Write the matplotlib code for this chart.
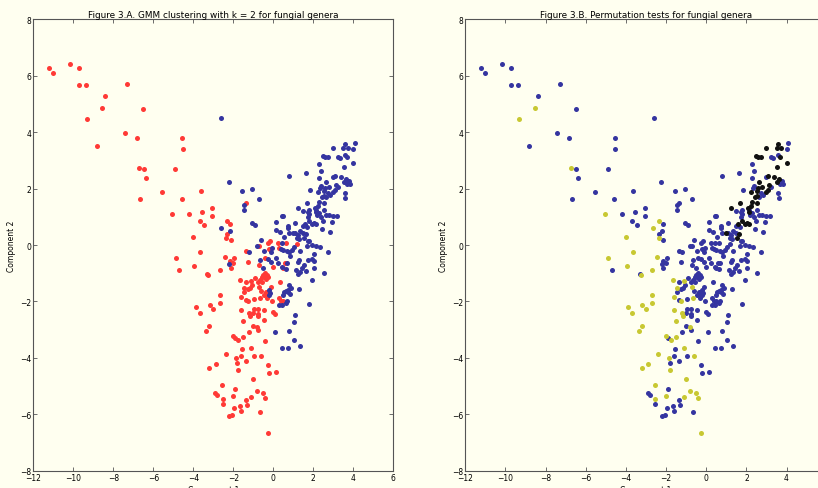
import numpy as np
import matplotlib
matplotlib.use("Agg")
import matplotlib.pyplot as plt

# points of the 2-d projection, grouped by (GMM cluster, permutation result)
# cluster 1 (red) -> not significant in permutation test (blue)
red_ns_x = [-11.23, -11.0, -10.18, -9.72, -9.70, -9.38, -7.30, -8.40, -6.50, -7.42,
            -6.82, -4.55, -8.82, -4.52, -6.48, -4.90, -6.38, -5.55, -3.63, -6.68,
            -4.57, -3.07, -3.55, -4.20, -3.07, -3.68, -2.15, -3.47, -2.33, -2.13,
            -1.38, -4.70, -3.32, -1.95, -2.0, -2.13, -2.17, -1.38, -1.28,
            -0.27, -0.15, 0.25, 0.63, 1.2, -0.72, -0.23, -0.42, 0.28,
            -0.03, 0.33, 0.47, 0.6, -0.73,
            -0.92, -0.78, -0.68, -0.58, -0.5, -0.42, -0.47, -0.55, -0.38, -1.38, -0.3, -0.27,
            -1.28, -1.17, -1.48, -0.63, -0.38, -0.28, -1.37, -0.95, -0.3, -0.08, 0.38, 0.47, 0.3,
            -0.95, -0.78, -0.48, -1.0, -0.78, -0.77, 0.0, 0.1, -0.45,
            -0.78, -1.0, -1.23, -1.92, -0.43,
            -1.58, -1.6, -0.98, -1.37, -1.8, -0.25, -0.23, 0.12,
            -1.92, -2.9, -2.82, -1.35, -2.53, -1.68, -1.33, -1.97, -1.63, -0.67, -2.2, -2.07,
            -0.12, -1.07, -0.45]
red_ns_y = [6.29, 6.09, 6.41, 6.28, 5.66, 5.66, 5.70, 5.30, 4.81, 3.98,
            3.78, 3.81, 3.51, 3.39, 2.68, 2.70, 2.39, 1.87, 1.91, 1.63,
            1.64, 1.32, 1.17, 1.09, 1.02, 0.84, 0.76, 0.72, 0.39, 0.19,
            1.49, -0.90, -1.04, -0.47, -0.65, -0.81, -0.56, -0.22, -0.61,
            0.09, 0.15, 0.07, 0.07, 0.05, -0.03, -0.15, -0.47, -0.12,
            -0.79, -1.3, -0.83, -0.65, -0.72,
            -1.17, -1.32, -1.25, -1.15, -1.06, -1.0, -1.15, -1.32, -1.21, -1.30, -1.05, -1.12,
            -1.56, -1.54, -1.65, -1.64, -1.68, -1.76, -1.95, -1.93, -1.87, -2.0, -1.97, -1.99, -1.86,
            -2.28, -2.28, -2.29, -2.41, -2.43, -2.52, -2.37, -2.46, -2.65,
            -3.0, -2.88, -3.07, -3.28, -3.4,
            -3.67, -3.93, -3.93, -4.1, -4.18, -4.24, -4.53, -4.49,
            -5.09, -5.26, -5.31, -5.48, -5.64, -5.72, -5.68, -5.79, -5.9, -5.93, -6.05, -6.01,
            -1.48, -1.41, -1.76]

# cluster 1 (red) -> significant (yellow)
red_sig_x = [-8.55, -9.32, -6.72, -5.05, -2.33, -4.00, -2.37,
             -3.67, -4.87, -3.96, -3.26, -2.68, -2.43,
             -1.65, -1.13, -1.47, -0.72, -1.6, -1.27, -0.68,
             -1.63, -1.2, -1.17, -1.53, -0.8, -2.02, -1.75, -1.5,
             -1.12, -2.38, -0.6, -1.85, -2.88, -3.2, -1.78, -1.02, -2.57,
             -0.82, -0.5, -2.02, -2.53, -1.1, -0.4, -0.28,
             -2.68, -2.68, -3.88, -3.68, -3.18, -3.0, -3.22, -3.37]
red_sig_y = [4.87, 4.48, 2.72, 1.09, 0.84, 0.28, 0.25,
             -0.24, -0.47, -0.73, -1.05, -0.90, -0.43,
             -1.23, -1.29, -1.52, -1.48, -1.85, -2.0, -1.89,
             -2.3, -2.41, -2.52, -2.69, -2.92, -3.23, -3.38, -3.25,
             -3.64, -3.88, -3.93, -4.02, -4.23, -4.36, -4.42, -4.76, -4.95,
             -5.19, -5.25, -5.36, -5.47, -5.4, -5.41, -6.67,
             -1.76, -2.06, -2.19, -2.4, -2.14, -2.26, -2.86, -3.06]

# cluster 2 (blue) -> significant (yellow)
blue_sig_x = [-2.63]
blue_sig_y = [0.60]

# cluster 2 (blue) -> not significant (blue)
blue_ns_x = [-2.62, -2.23, -1.58, -1.05, -0.73, -1.45, -1.45, 0.43, 0.5, -1.05,
             -0.92, 0.15, 0.72, 0.75, -2.18, 0.15, 0.33, 0.78, -0.6, 0.43,
             -2.2, -1.2, -0.8, -0.48, -0.12, -0.65, -0.28, -0.12, -0.5, 0.13, 0.25, -0.08,
             0.38, 0.48, 0.45, 0.93, 0.52,
             -0.23, -0.17, -0.23, 0.53, 0.62, 0.47, 0.3, 0.43, 0.1,
             1.05, 0.68, 0.78, 0.82, 1.33, 1.67, 1.8, 1.95, 2.12, 2.32,
             2.02, 2.75, 1.75, 1.95, 2.05, 1.28, 1.25, 1.53, 1.45, 1.63,
             1.12, 1.32, 1.22, 2.05, 0.68, 0.65, 2.55, 1.92, 0.78, 0.88,
             0.72, 0.75, 0.83, 1.3, 0.68, 0.63, 1.78, 1.08, 1.05, 0.78,
             1.02, 1.32, 0.72, 0.43,
             4.07, 4.0, 3.25, 3.33, 3.57, 2.27, 2.38, 0.78, 1.65, 2.3, 3.0,
             3.78, 3.83, 3.68, 2.38, 2.33, 3.25, 2.72, 2.85, 2.62, 3.57, 1.85, 3.6,
             1.48, 1.78, 1.73, 1.78, 2.15, 2.2, 2.27, 2.52, 2.38, 2.63, 2.77, 2.97, 3.17,
             1.75, 2.5, 2.92, 1.07, 1.48, 1.68, 2.43, 2.82, 1.32, 1.1, 1.47, 1.25, 1.18, 1.3, 1.73]
blue_ns_y = [4.49, 2.25, 1.93, 1.98, 1.63, 1.41, 1.24, 1.02, 1.02, 0.78,
             0.72, 0.82, 0.68, 0.6, 0.51, 0.54, 0.47, 0.41, 0.17, 0.08,
             -0.68, -0.25, -0.05, -0.2, -0.24, -0.53, -0.5, -0.61, -0.81, -0.46, -0.65, -0.1,
             -0.15, -0.19, -0.78, -0.19, 0.3,
             -1.6, -1.7, -1.78, -1.67, -1.62, -1.78, -2.14, -2.12, -3.09,
             -0.07, -0.2, -0.26, -0.4, -0.22, -0.02, 0.13, 0.0, -0.02, -0.08,
             -0.3, -0.25, -0.52, -0.5, -0.56, -0.53, -0.61, -0.69, -0.8, -0.92,
             -0.87, -0.97, -1.02, -0.8, -0.64, -0.85, -1.0, -1.25, -1.42, -1.52,
             -1.58, -1.68, -1.75, -1.55, -1.98, -2.07, -2.1, -2.48, -2.72, -3.05,
             -3.36, -3.59, -3.64, -3.66,
             3.63, 3.39, 3.11, 3.10, 3.18, 2.86, 2.62, 2.45, 2.55, 2.39, 2.40,
             2.26, 2.16, 2.15, 2.08, 2.01, 2.07, 1.83, 1.77, 1.69, 1.83, 1.95, 1.67,
             1.22, 1.23, 1.16, 1.09, 1.23, 1.08, 1.12, 1.25, 1.0, 1.08, 1.08, 1.04, 1.04,
             0.98, 0.84, 0.80, 0.79, 0.67, 0.63, 0.58, 0.47, 0.51, 0.44, 0.41, 0.35, 0.26, 0.22, 0.15]

# cluster 2 (blue) -> significant (black)
blue_top_x = [3.58, 2.97, 3.5, 3.72, 2.5, 2.58, 2.73, 3.67, 4.0, 3.52,
              3.1, 3.38, 3.63, 3.53, 2.65, 2.6, 2.8, 3.15, 3.1, 2.98,
              2.22, 2.55, 2.52, 2.45, 1.67, 2.28, 2.25, 2.53, 1.22, 2.08,
              2.12, 1.78, 1.95, 2.03, 2.15, 1.58, 0.97, 1.62, 1.55]
blue_top_y = [3.60, 3.45, 3.43, 3.45, 3.15, 3.13, 3.11, 3.11, 2.91, 2.77,
              2.45, 2.42, 2.33, 2.22, 2.24, 2.04, 2.07, 2.14, 1.96, 1.88,
              1.87, 1.90, 1.75, 1.71, 1.50, 1.52, 1.39, 1.48, 1.31, 1.31,
              1.16, 0.87, 0.73, 0.78, 0.73, 0.74, 0.43, 0.38, 0.26]

bg = "#fffff0"
c_red = "#ff3a36"
c_blue = "#3535a0"
c_yel = "#c8c832"
c_blk = "#111111"
ms = 13

fig = plt.figure(figsize=(8.18, 4.89), dpi=100, facecolor=bg)
ax1 = fig.add_axes([33.3 / 818, 17.3 / 489, 360 / 818, 451.3 / 489], facecolor=bg)
ax2 = fig.add_axes([465.3 / 818, 17.3 / 489, 361.4 / 818, 451.3 / 489], facecolor=bg)

# left: GMM clusters
ax1.scatter(red_ns_x + red_sig_x, red_ns_y + red_sig_y, s=ms, c=c_red, linewidths=0)
ax1.scatter(blue_ns_x + blue_top_x + blue_sig_x, blue_ns_y + blue_top_y + blue_sig_y,
            s=ms, c=c_blue, linewidths=0)
ax1.set_title("Figure 3.A. GMM clustering with k = 2 for fungial genera", fontsize=6.4, pad=2)

# right: permutation tests
ax2.scatter(red_ns_x + blue_ns_x, red_ns_y + blue_ns_y, s=ms, c=c_blue, linewidths=0)
ax2.scatter(red_sig_x + blue_sig_x, red_sig_y + blue_sig_y, s=ms, c=c_yel, linewidths=0)
ax2.scatter(blue_top_x, blue_top_y, s=ms, c=c_blk, linewidths=0)
ax2.set_title("Figure 3.B. Permutation tests for fungial genera", fontsize=6.4, pad=2)

for ax in (ax1, ax2):
    ax.set_xlim(-12, 6)
    ax.set_ylim(-8, 8)
    ax.set_xticks(np.arange(-12, 7, 2))
    ax.set_yticks(np.arange(-8, 9, 2))
    ax.tick_params(direction="in", top=True, right=True, labelsize=5.5,
                   length=3, width=0.6, color="#555555", pad=1.5)
    ax.set_xlabel("Component 1", fontsize=5.5, labelpad=2.5)
    ax.set_ylabel("Component 2", fontsize=5.5, labelpad=3)
    for sp in ax.spines.values():
        sp.set_color("#555555")
        sp.set_linewidth(0.8)

fig.savefig("out.png", dpi=100, facecolor=bg)
